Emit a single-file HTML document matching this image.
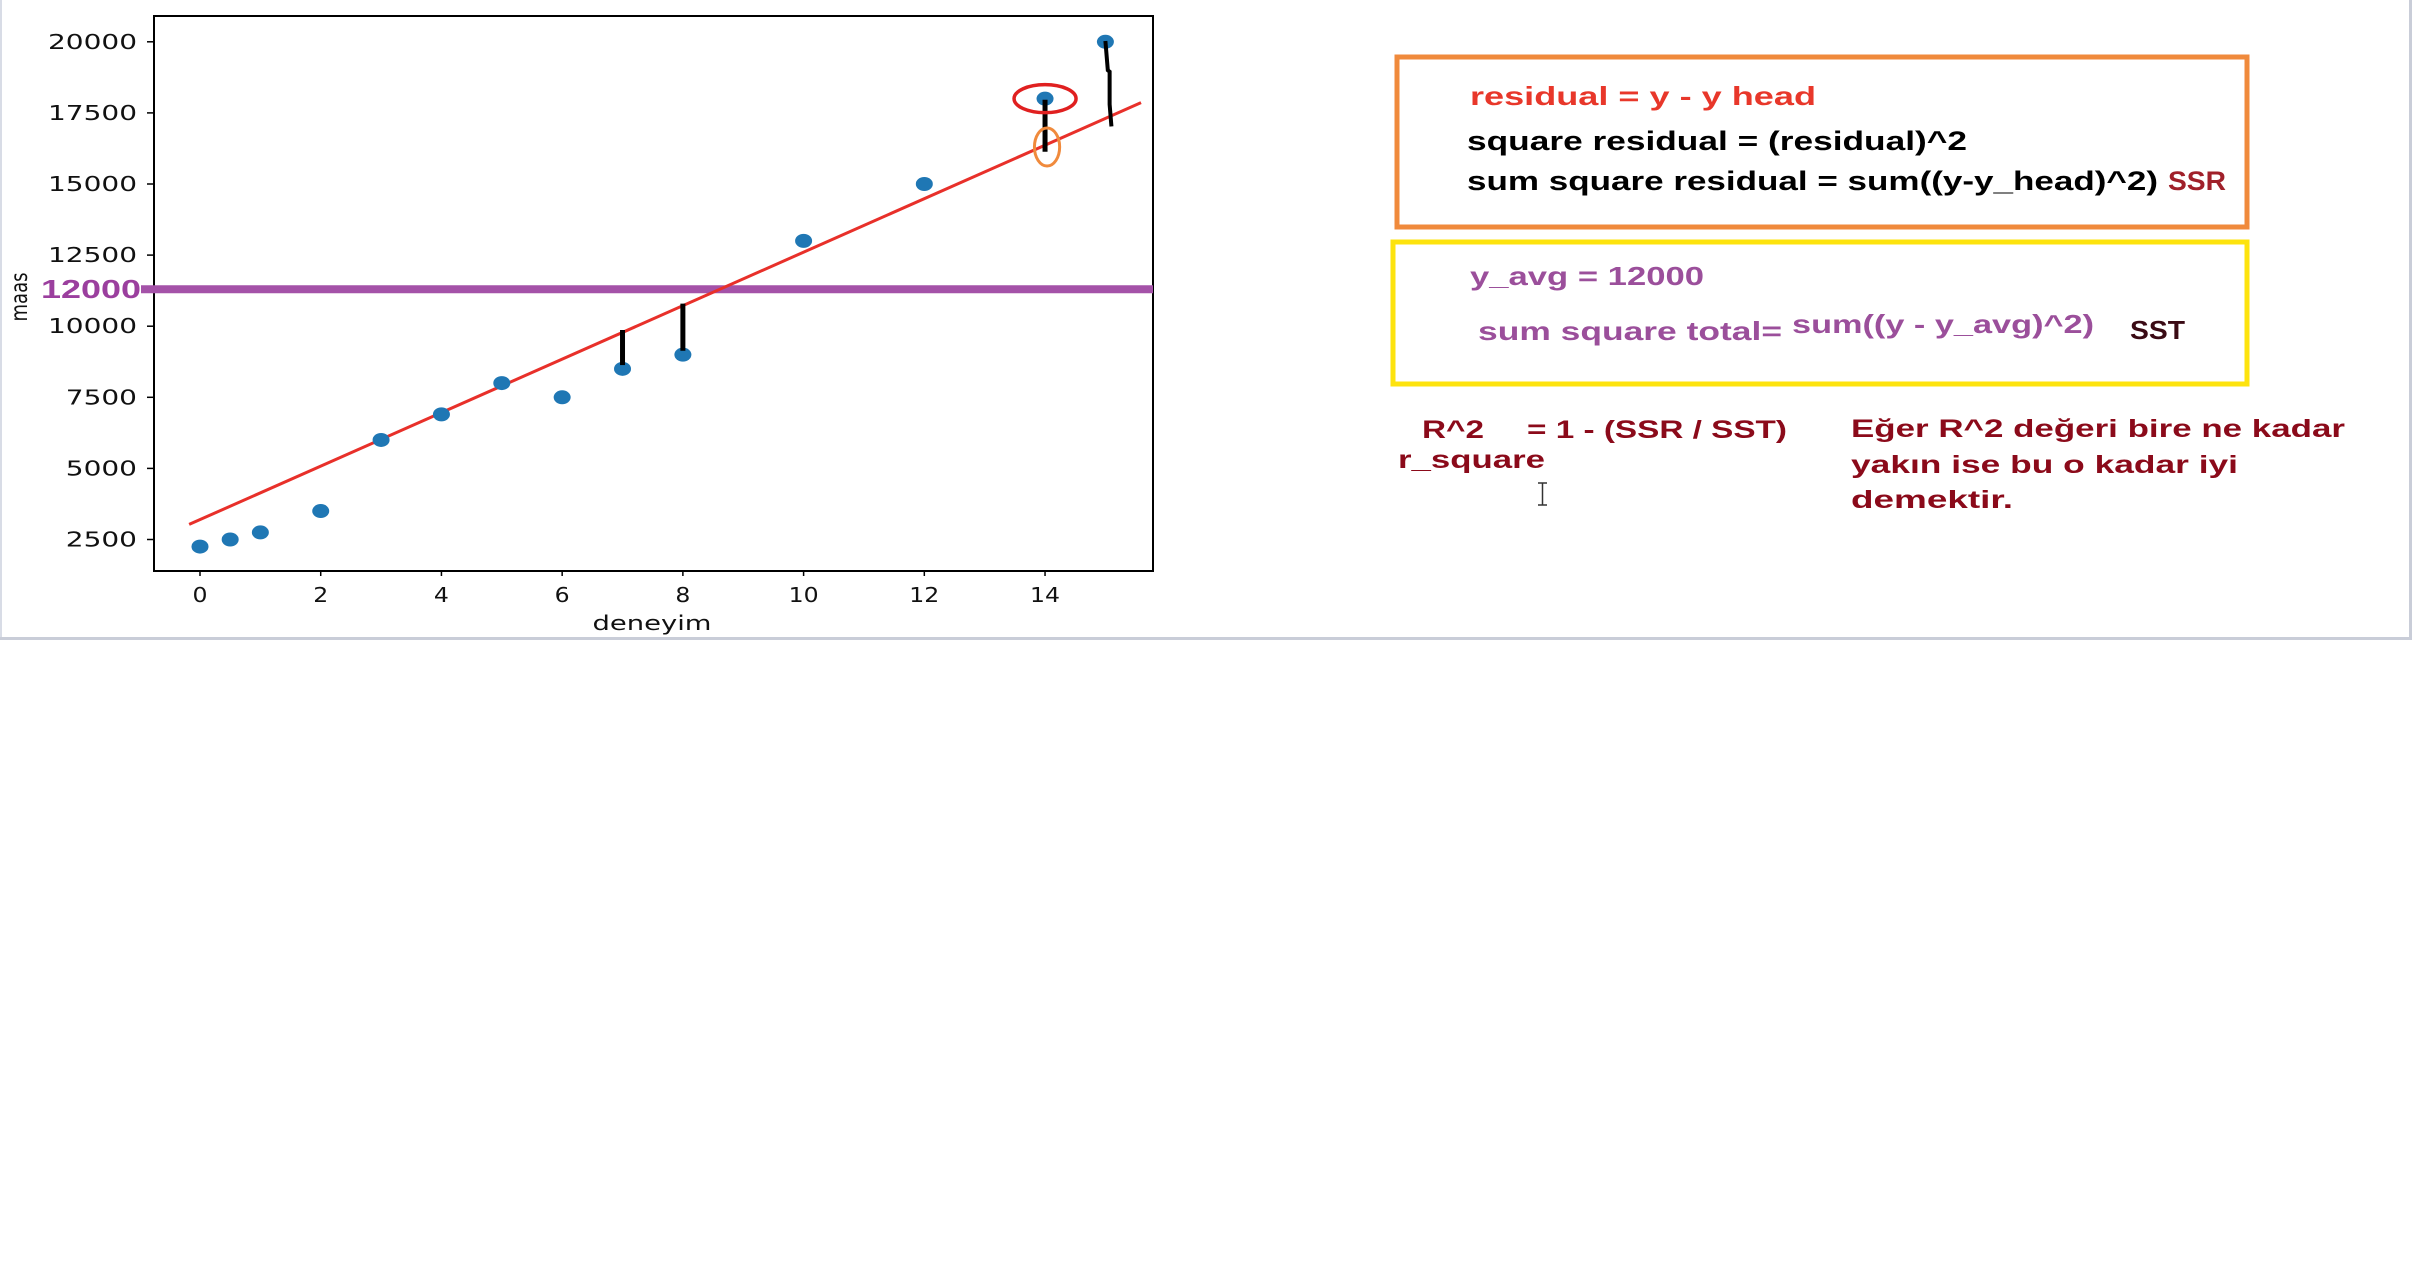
<!DOCTYPE html>
<html><head><meta charset="utf-8"><style>
html,body{margin:0;padding:0;background:#fff;}
svg{display:block;}
</style></head><body>
<svg id="chart" width="2415" height="1280" viewBox="0 0 2415 1280" xmlns="http://www.w3.org/2000/svg">
<rect x="0" y="0" width="2415" height="1280" fill="#fff"/>
<rect x="0" y="0" width="2" height="640" fill="#d8dce6"/>
<rect x="0" y="637" width="2412" height="3" fill="#c9cdd8"/>
<rect x="2409" y="0" width="3" height="640" fill="#c9cdd8"/>
<g id="plot"></g>

<g font-family="'Liberation Sans', sans-serif" font-weight="bold">
<rect x="1397" y="57" width="850" height="170" fill="none" stroke="#f08a3c" stroke-width="5"/>
<text x="1470" y="105" font-size="26" fill="#e8372a" textLength="346" lengthAdjust="spacingAndGlyphs">residual = y - y  head</text>
<text x="1467" y="150" font-size="27" fill="#000" textLength="500" lengthAdjust="spacingAndGlyphs">square residual = (residual)^2</text>
<text x="1467" y="190" font-size="27" fill="#000" textLength="691" lengthAdjust="spacingAndGlyphs">sum square residual = sum((y-y_head)^2)</text>
<text x="2168" y="190" font-size="27" fill="#a0202a" textLength="58" lengthAdjust="spacingAndGlyphs">SSR</text>
</g>
<g font-family="'Liberation Sans', sans-serif" font-weight="bold">
<rect x="1393" y="242" width="854" height="142" fill="none" stroke="#fde30e" stroke-width="5"/>
<text x="1470" y="285" font-size="26" fill="#9b4f9b" textLength="234" lengthAdjust="spacingAndGlyphs">y_avg = 12000</text>
<text x="1478" y="340" font-size="26" fill="#9b4f9b" textLength="304" lengthAdjust="spacingAndGlyphs">sum square total=</text>
<text x="1792" y="333" font-size="26" fill="#9b4f9b" textLength="302" lengthAdjust="spacingAndGlyphs">sum((y - y_avg)^2)</text>
<text x="2130" y="339" font-size="26" fill="#3a0a14" textLength="55" lengthAdjust="spacingAndGlyphs">SST</text>
</g>
<g font-family="'Liberation Sans', sans-serif" font-weight="bold" fill="#8b0a1a">
<text x="1422" y="438" font-size="25" textLength="62" lengthAdjust="spacingAndGlyphs">R^2</text>
<text x="1527" y="438" font-size="25" textLength="260" lengthAdjust="spacingAndGlyphs">= 1 - (SSR / SST)</text>
<text x="1398" y="468" font-size="25" textLength="147" lengthAdjust="spacingAndGlyphs">r_square</text>
<text x="1851" y="437" font-size="25" textLength="494" lengthAdjust="spacingAndGlyphs">Eğer R^2 değeri bire ne kadar</text>
<text x="1851" y="473" font-size="25" textLength="387" lengthAdjust="spacingAndGlyphs">yakın ise bu o kadar iyi</text>
<text x="1851" y="508" font-size="25" textLength="162" lengthAdjust="spacingAndGlyphs">demektir.</text>
</g>
<g stroke="#333" stroke-width="1.5" fill="none">
<path d="M1538 483 H1547 M1542.5 483 V505 M1538 505 H1547"/>
</g>
</svg>
<script>
const xs = [0, 0.5, 1, 2, 3, 4, 5, 6, 7, 8, 10, 12, 14, 15];
const ys = [2250, 2500, 2750, 3500, 6000, 6900, 8000, 7500, 8500, 9000, 13000, 15000, 18000, 20000];
const xTicks = [0, 2, 4, 6, 8, 10, 12, 14];
const yTicks = [2500, 5000, 7500, 10000, 12500, 15000, 17500, 20000];
const fitX = [-0.18, 15.59];
const fitY = [3030, 17860];
const avgY = [11300];
const resX = [7, 8, 14];
const resTop = [9866, 10794, 17964];
const resBottom = [8633, 9135, 16132];
const bigResX = [15.0, 15.04, 15.07, 15.07, 15.1];
const bigResY = [20028, 19000, 18950, 17800, 17025];

const NS = 'http://www.w3.org/2000/svg';
const g = document.getElementById('plot');
const X = v => 200 + v * 60.36;
const Y = v => 610.6 - v * (71.1 / 2500);
function el(tag, attrs, parent) {
  const e = document.createElementNS(NS, tag);
  for (const k in attrs) e.setAttribute(k, attrs[k]);
  (parent || g).appendChild(e);
  return e;
}
const L = 154, R = 1153, T = 16, B = 571;

const frame = el('rect', {x: L, y: T, width: R - L, height: B - T, fill: 'none', stroke: '#000', 'stroke-width': 2});



yTicks.forEach(v => {
  const t = el('line', {x1: L - 7, x2: L, y1: Y(v), y2: Y(v), stroke: '#000', 'stroke-width': 1.5});
  
  
  const s = String(v);
  const lb = el('text', {x: 137, y: Y(v) + 7, 'text-anchor': 'end', 'font-family': "'DejaVu Sans', sans-serif", 'font-size': 20, fill: '#111', textLength: s.length * 17.8, lengthAdjust: 'spacingAndGlyphs'});
  lb.textContent = s;
  
  
});
xTicks.forEach(v => {
  const t = el('line', {x1: X(v), x2: X(v), y1: B, y2: B + 5, stroke: '#000', 'stroke-width': 1.5});
  
  
  const s = String(v);
  const lb = el('text', {x: X(v), y: 602, 'text-anchor': 'middle', 'font-family': "'DejaVu Sans', sans-serif", 'font-size': 20, fill: '#111', textLength: s.length * 15, lengthAdjust: 'spacingAndGlyphs'});
  lb.textContent = s;
  
  
});
const xl = el('text', {x: 652, y: 630, 'text-anchor': 'middle', 'font-family': "'DejaVu Sans', sans-serif", 'font-size': 20, fill: '#111', textLength: 119, lengthAdjust: 'spacingAndGlyphs'});
xl.textContent = 'deneyim';


const yl = el('text', {transform: 'translate(27,297) scale(1.3,1) rotate(-90)', 'text-anchor': 'middle', 'font-family': "'DejaVu Sans', sans-serif", 'font-size': 18, fill: '#111'});
yl.textContent = 'maas';



const av = el('line', {x1: 141, x2: R, y1: Y(avgY[0]), y2: Y(avgY[0]), stroke: '#a452a8', 'stroke-width': 8});


const avl = el('text', {x: 41, y: Y(avgY[0]) + 9, 'font-family': "'Liberation Sans', sans-serif", 'font-size': 26, 'font-weight': 'bold', fill: '#9b3f9e', textLength: 100, lengthAdjust: 'spacingAndGlyphs'});
avl.textContent = '12000';



const fl = el('line', {x1: X(fitX[0]), y1: Y(fitY[0]), x2: X(fitX[1]), y2: Y(fitY[1]), stroke: '#e8302a', 'stroke-width': 3});



xs.forEach((x, i) => {
  const p = el('ellipse', {cx: X(x), cy: Y(ys[i]), rx: 8.5, ry: 7, fill: '#1f77b4'});
  
  
});

resX.forEach((x, i) => {
  const r = el('line', {x1: X(x), x2: X(x), y1: Y(resTop[i]), y2: Y(resBottom[i]), stroke: '#000', 'stroke-width': 5});
  
  
});
const br = el('polyline', {points: bigResX.map((x, i) => X(x) + ',' + Y(bigResY[i])).join(' '), fill: 'none', stroke: '#000', 'stroke-width': 4});



const rc = el('ellipse', {cx: X(14), cy: Y(18000), rx: 31, ry: 14, fill: 'none', stroke: '#e02020', 'stroke-width': 3.5});


const oc = el('ellipse', {cx: X(14) + 2, cy: Y(16300), rx: 12.6, ry: 19, fill: 'none', stroke: '#f08a3c', 'stroke-width': 3});


</script>
</body></html>
